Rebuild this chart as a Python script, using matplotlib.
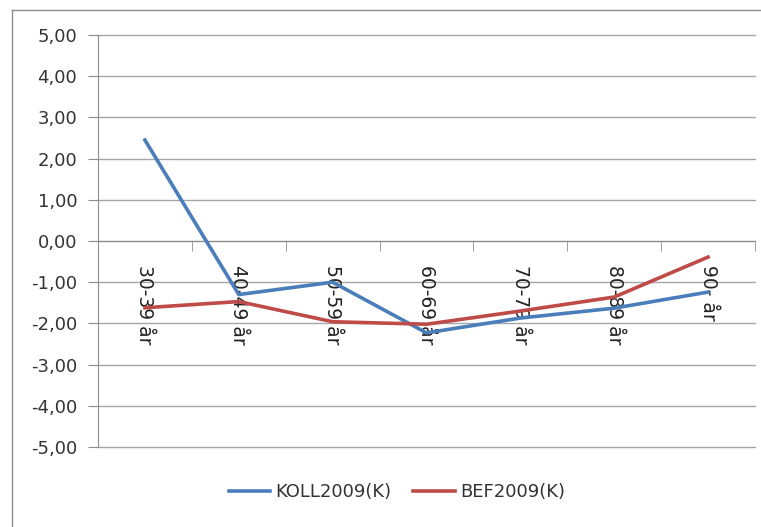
import matplotlib
matplotlib.use("Agg")
import matplotlib.pyplot as plt
from matplotlib.lines import Line2D
import numpy as np

categories = ["30-39 år", "40-49 år", "50-59 år", "60-69 år", "70-79 år", "80-89 år", "90- år"]
koll2009 = [2.45, -1.30, -1.00, -2.23, -1.87, -1.63, -1.24]
bef2009 = [-1.62, -1.47, -1.96, -2.02, -1.70, -1.36, -0.39]
yticks = [5, 4, 3, 2, 1, 0, -1, -2, -3, -4, -5]

blue = "#4a7ebb"
red = "#be4b48"
grid_col = "#a6a6a6"

plt.rcParams["font.family"] = ["DejaVu Sans"]

fig = plt.figure(figsize=(7.61, 5.27), dpi=100)
ax = fig.add_axes([98 / 761, 1 - 447 / 527, (755 - 98) / 761, (447 - 35) / 527])

x = np.arange(len(categories))
ax.plot(x, koll2009, color=blue, lw=2.6, solid_joinstyle="round", zorder=3)
ax.plot(x, bef2009, color=red, lw=2.6, solid_joinstyle="round", zorder=3)

ax.set_xlim(-0.5, len(categories) - 0.5)
ax.set_ylim(-5, 5)
ax.set_yticks(yticks)
ax.set_yticklabels([f"{v:.2f}".replace(".", ",") for v in yticks], fontsize=13, color="#333333")
for gl_y in yticks:
    ax.axhline(gl_y, color=grid_col, lw=1.0, zorder=1, clip_on=False)

for side in ("top", "right"):
    ax.spines[side].set_visible(False)
ax.spines["left"].set_color("#8c8c8c")
ax.spines["bottom"].set_position(("data", 0))
ax.spines["bottom"].set_color("#8c8c8c")

ax.tick_params(axis="y", direction="out", length=7, color="#8c8c8c", pad=8)

# category labels at centres, tick marks at category boundaries
ax.set_xticks(x)
ax.set_xticklabels(categories, rotation=270, fontsize=13.5, color="#222222", va="top", ha="center")
ax.tick_params(axis="x", which="major", length=0, pad=17)
ax.set_xticks(np.arange(len(categories) + 1) - 0.5, minor=True)
ax.tick_params(axis="x", which="minor", direction="out", length=7, color="#8c8c8c")

handles = [Line2D([], [], color=blue, lw=2.6), Line2D([], [], color=red, lw=2.6)]
fig.legend(handles, ["KOLL2009(K)", "BEF2009(K)"], loc="center", bbox_to_anchor=(397 / 761, 1 - 492 / 527),
           ncol=2, frameon=False, fontsize=13, handlelength=2.3, handletextpad=0.3, columnspacing=1.2,
           labelcolor="#333333")

# chart-area frame
fig.add_artist(Line2D([11.5 / 761, 1], [1 - 9.5 / 527, 1 - 9.5 / 527], transform=fig.transFigure, color="#8c8c8c", lw=1))
fig.add_artist(Line2D([11.5 / 761, 11.5 / 761], [0, 1 - 9.5 / 527], transform=fig.transFigure, color="#8c8c8c", lw=1))

fig.savefig("out.png", dpi=100)
